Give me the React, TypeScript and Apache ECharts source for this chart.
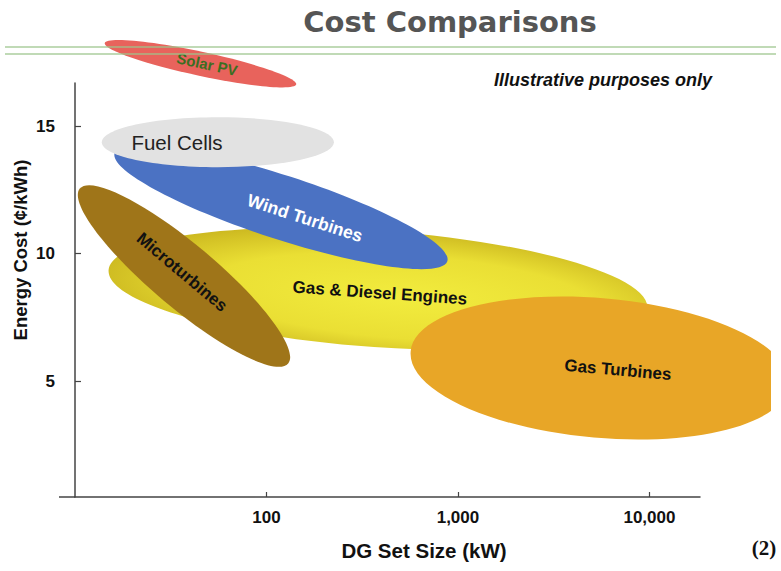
import React, { useEffect, useRef } from "react";
import * as echarts from "echarts";

// Technology regions, drawn in this order (later ones on top)
const technologies = [
  "Gas & Diesel Engines",
  "Wind Turbines",
  "Fuel Cells",
  "Microturbines",
  "Gas Turbines",
  "Solar PV",
];
// Major-axis end points of each region (kW, ¢/kWh)
const startKW = [15.0, 16.1, 13.8, 10.6, 566, 14.3];
const startCost = [9.35, 13.94, 14.37, 12.55, 6.16, 18.25];
const endKW = [9740, 880, 225, 129.8, 53700, 143];
const endCost = [7.87, 9.7, 14.37, 5.69, 4.86, 16.64];
// Half thickness of each region (¢/kWh)
const halfWidthCost = [2.28, 1.25, 0.98, 1.25, 2.74, 0.47];
// Label anchor of each region (kW, ¢/kWh)
const labelKW = [391, 158.9, 34.1, 36.2, 6846, 48.9];
const labelCost = [8.45, 11.39, 14.37, 9.27, 5.43, 17.43];

const xTicks = [100, 1000, 10000];
const yTicks = [5, 10, 15];
const xMin = 10;
const xMax = 18370;
const yMin = 0.45;
const yMax = 16.69;

const SANS = '"Liberation Sans", Arial, Helvetica, sans-serif';

const fills: any[] = [
  {
    type: "radial",
    x: 0.55,
    y: 0.55,
    r: 0.6,
    colorStops: [
      { offset: 0, color: "#f2ec3e" },
      { offset: 0.6, color: "#eadf34" },
      { offset: 1, color: "#c9b41e" },
    ],
  },
  "#4b72c3",
  "#e2e2e2",
  "#9f7519",
  "#e8a627",
  "#e8635c",
];
const labelStyles = [
  { color: "#111", size: 17, weight: "bold" },
  { color: "#ffffff", size: 17.5, weight: "bold" },
  { color: "#222", size: 20.5, weight: "normal" },
  { color: "#111", size: 17, weight: "bold" },
  { color: "#111", size: 17, weight: "bold" },
  { color: "#3b6e22", size: 15, weight: "bold" },
];

export default function App() {
  const ref = useRef<HTMLDivElement>(null);
  useEffect(() => {
    document.body.style.margin = "0";
    if (!ref.current) return;
    const chart = echarts.init(ref.current, null, { renderer: "svg" });
    const data = technologies.map((name, i) => ({
      name,
      value: [startKW[i], startCost[i], endKW[i], endCost[i], halfWidthCost[i], labelKW[i], labelCost[i]],
    }));
    const renderItem = (params: any, api: any) => {
      const i = params.dataIndex;
      const p1 = api.coord([api.value(0), api.value(1)]);
      const p2 = api.coord([api.value(2), api.value(3)]);
      const cx = (p1[0] + p2[0]) / 2;
      const cy = (p1[1] + p2[1]) / 2;
      const dx = p2[0] - p1[0];
      const dy = p2[1] - p1[1];
      const a = Math.sqrt(dx * dx + dy * dy) / 2;
      const angle = Math.atan2(dy, dx);
      const w = api.value(4);
      const b = Math.abs(api.coord([api.value(0), 5])[1] - api.coord([api.value(0), 5 + w])[1]);
      const lp = api.coord([api.value(5), api.value(6)]);
      const ls = labelStyles[i];
      return {
        type: "group",
        children: [
          {
            type: "ellipse",
            x: cx,
            y: cy,
            rotation: -angle,
            shape: { cx: 0, cy: 0, rx: a, ry: b },
            style: { fill: fills[i] },
          },
          {
            type: "text",
            x: lp[0],
            y: lp[1],
            rotation: -angle,
            style: {
              text: technologies[i],
              fill: ls.color,
              fontSize: ls.size,
              fontWeight: ls.weight,
              fontFamily: SANS,
              align: "center",
              verticalAlign: "middle",
            },
          },
        ],
      };
    };
    chart.setOption({
      animation: false,
      grid: { left: 75, right: 81, top: 83, bottom: 74 },
      xAxis: {
        type: "log",
        logBase: 10,
        min: xMin,
        max: xMax,
        axisLine: { show: true, onZero: false, lineStyle: { color: "#444", width: 1.5 } },
        axisTick: { show: true, inside: true, length: 5, customValues: xTicks, lineStyle: { color: "#444", width: 1.2 } },
        axisLabel: {
          customValues: xTicks,
          margin: 12,
          color: "#111",
          fontSize: 17,
          fontWeight: "bold",
          fontFamily: SANS,
          formatter: (v: number) => (xTicks.indexOf(Math.round(v)) >= 0 ? Math.round(v).toLocaleString("en-US") : ""),
        },
        splitLine: { show: false },
        minorTick: { show: false },
      },
      yAxis: {
        type: "value",
        min: yMin,
        max: yMax,
        axisLine: { show: true, lineStyle: { color: "#444", width: 1.5 } },
        axisTick: { show: true, inside: true, length: 6, customValues: yTicks, lineStyle: { color: "#444", width: 1.2 } },
        axisLabel: {
          customValues: yTicks,
          margin: 20,
          color: "#111",
          fontSize: 17,
          fontWeight: "bold",
          fontFamily: SANS,
          formatter: (v: number) => (yTicks.indexOf(v) >= 0 ? String(v) : ""),
        },
        splitLine: { show: false },
      },
      series: [
        {
          type: "custom",
          clip: false,
          renderItem,
          encode: { x: 0, y: 1 },
          data,
        },
      ],
      graphic: [
        {
          type: "rect",
          z: 9,
          shape: { x: 771, y: 280, width: 12, height: 180 },
          style: { fill: "#ffffff" },
        },
        {
          type: "text",
          x: 450,
          y: 22,
          z: 10,
          style: {
            text: "Cost Comparisons",
            fill: "#555",
            fontSize: 29,
            fontWeight: "bold",
            fontFamily: '"DejaVu Sans", Verdana, sans-serif',
            align: "center",
            verticalAlign: "middle",
          },
        },
        {
          type: "line",
          z: 10,
          shape: { x1: 5, y1: 47, x2: 776, y2: 47 },
          style: { stroke: "#9cc48c", lineWidth: 1.5, opacity: 0.85 },
        },
        {
          type: "line",
          z: 10,
          shape: { x1: 5, y1: 54, x2: 776, y2: 54 },
          style: { stroke: "#9cc48c", lineWidth: 1.5, opacity: 0.85 },
        },
        {
          type: "text",
          x: 603,
          y: 80,
          z: 10,
          style: {
            text: "Illustrative purposes only",
            fill: "#111",
            fontSize: 18,
            fontWeight: "bold",
            fontStyle: "italic",
            fontFamily: SANS,
            align: "center",
            verticalAlign: "middle",
          },
        },
        {
          type: "text",
          x: 20,
          y: 250,
          z: 10,
          rotation: Math.PI / 2,
          style: {
            text: "Energy Cost (¢/kWh)",
            fill: "#111",
            fontSize: 18.5,
            fontWeight: "bold",
            fontFamily: SANS,
            align: "center",
            verticalAlign: "middle",
          },
        },
        {
          type: "text",
          x: 424,
          y: 550,
          z: 10,
          style: {
            text: "DG Set Size (kW)",
            fill: "#111",
            fontSize: 20.5,
            fontWeight: "bold",
            fontFamily: SANS,
            align: "center",
            verticalAlign: "middle",
          },
        },
        {
          type: "text",
          x: 764,
          y: 548,
          z: 10,
          style: {
            text: "(2)",
            fill: "#111",
            fontSize: 21,
            fontWeight: "bold",
            fontFamily: '"Liberation Serif", "Times New Roman", serif',
            align: "center",
            verticalAlign: "middle",
          },
        },
        {
          type: "line",
          z: 10,
          shape: { x1: 59, y1: 497, x2: 75, y2: 497 },
          style: { stroke: "#444", lineWidth: 1.5 },
        },
      ],
    });
    return () => chart.dispose();
  }, []);
  return <div ref={ref} style={{ width: 781, height: 571 }} />;
}
